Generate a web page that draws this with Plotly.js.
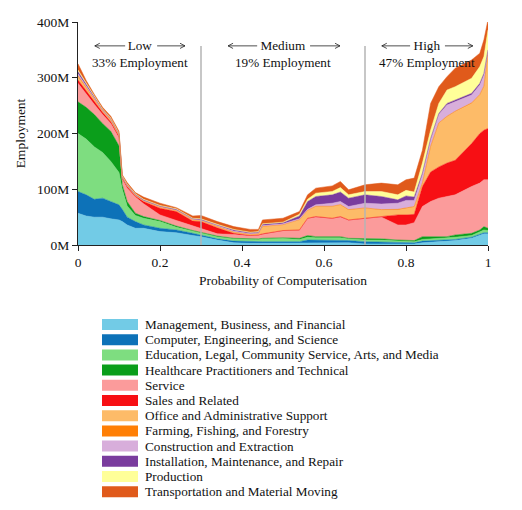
<!DOCTYPE html>
<html>
<head>
<meta charset="utf-8">
<script src="https://cdn.plot.ly/plotly-3.0.1.min.js"></script>
<style>
  html, body { margin: 0; padding: 0; background: #fff; }
  #chart { width: 522px; height: 510px; }
</style>
</head>
<body>
<div id="chart"></div>
<script>
"use strict";

// probability of computerisation (x), employment in millions per group
var probability = [0, 0.02, 0.04, 0.06, 0.08, 0.1, 0.108, 0.12, 0.14, 0.16, 0.2, 0.24, 0.28, 0.3, 0.34, 0.38, 0.42, 0.44, 0.45, 0.5,
    0.54, 0.56, 0.58, 0.62, 0.64, 0.66, 0.7, 0.74, 0.78, 0.8, 0.82, 0.84, 0.86, 0.88, 0.9, 0.92, 0.96, 0.98, 0.99, 1];

var management = [57, 52, 50, 50, 47, 45, 42, 36, 30, 30, 24, 22, 17, 15, 9, 4, 3, 3, 3, 3, 3, 4, 4, 4, 4, 4, 2, 2, 1, 2, 2, 4, 5, 6, 7, 8, 12, 17, 20, 20];
var computer = [39, 38, 32, 34, 31, 27, 22, 14, 12, 6, 6, 5, 4, 3, 2, 3, 3, 3, 3, 3, 3, 5, 5, 5, 5, 4, 4, 3, 3, 2, 2, 3, 3, 2, 2, 2, 2, 2, 2, 2];
var education = [104, 100, 94, 82, 72, 58, 36, 20, 11, 12, 12, 5, 4, 4, 4, 4, 4, 4, 5, 6, 4, 5, 4, 4, 4, 3, 3, 4, 3, 3, 2, 3, 3, 3, 3, 4, 3, 4, 5, 4];
var healthcare = [57, 57, 58, 52, 54, 48, 8, 8, 4, 3, 2, 2, 1, 1, 1, 1, 1, 1, 1, 1, 2, 3, 2, 2, 2, 1, 3, 2, 2, 2, 2, 5, 4, 4, 3, 4, 4, 4, 6, 4];
var service = [33, 23, 18, 16, 14, 14, 10, 24, 29, 23, 10, 10, 8, 7, 4, 7, 5, 6, 7, 12, 14, 30, 35, 32, 35, 32, 35, 39, 27, 27, 32, 54, 63, 69, 72, 72, 84, 84, 84, 87];
var sales = [6, 6, 4, 4, 3, 3, 2, 3, 2, 4, 12, 16, 9, 12, 11, 2, 1, 1, 1, 1, 1, 1, 1, 1, 1, 1, 1, 1, 18, 18, 15, 36, 53, 56, 60, 62, 77, 89, 89, 92];
var office = [6, 5, 4, 2, 3, 2, 1, 1, 1, 1, 2, 2, 2, 2, 2, 2, 2, 2, 13, 10, 18, 14, 18, 21, 21, 18, 18, 12, 9, 12, 13, 6, 45, 78, 83, 87, 72, 69, 78, 135];
var farming = [2, 2, 1, 1, 1, 1, 0.5, 0.5, 0.5, 0.5, 0.5, 0.5, 0.5, 0.5, 0.5, 0.5, 0.5, 0.5, 0.5, 0.5, 0.5, 0.5, 0.5, 0.5, 0.5, 0.5, 0.5, 0.5, 1, 1, 1, 0.5, 1, 1, 1, 1, 1, 1, 1, 1];
var construction = [3, 2, 2, 1, 1, 1, 0.5, 0.5, 0.5, 0.5, 0.5, 0.5, 1, 0.5, 1.5, 1.5, 1, 1, 1.5, 1.5, 1.5, 1.5, 2.5, 5.5, 5.5, 5.5, 8.5, 10, 11, 13, 11, 15.5, 12, 15, 20, 17, 14, 17, 20, 3];
var installation = [4, 3, 2, 1, 1, 1, 1, 1, 1, 1, 1, 1, 1, 1, 1, 2, 1.5, 1.5, 2, 2, 5, 14, 15, 15, 17, 15, 15, 13.5, 6, 8, 6, 2, 2, 2, 3, 3, 3, 3, 3, 2];
var production = [3, 2, 2, 1, 1, 1, 1, 1, 1, 1, 1, 1, 0.5, 1, 1, 1, 1, 1, 1, 1, 3, 4, 6, 6, 8, 6, 6, 9, 9, 10, 9, 18, 15, 18, 24, 24, 27, 30, 30, 36];
var transport = [11, 5, 3, 3, 3, 3, 2, 3, 2, 4, 4, 2, 4, 6, 5, 5, 5, 4, 7, 7, 5, 8, 9, 10, 11, 9, 12, 15, 18, 19, 25, 23, 48, 30, 24, 33, 33, 24, 30, 18];

var groupNames = [
    "Management, Business, and Financial",
    "Computer, Engineering, and Science",
    "Education, Legal, Community Service, Arts, and Media",
    "Healthcare Practitioners and Technical",
    "Service",
    "Sales and Related",
    "Office and Administrative Support",
    "Farming, Fishing, and Forestry",
    "Construction and Extraction",
    "Installation, Maintenance, and Repair",
    "Production",
    "Transportation and Material Moving"
];
var groupValues = [management, computer, education, healthcare, service, sales, office, farming, construction, installation, production, transport];
var groupColors = ["#72cbe6", "#0d72b8", "#7edd80", "#0b9e1b", "#fb9b9b", "#f70f14", "#fdbb68", "#ff7f05", "#d8aedb", "#7a3c9e", "#ffff99", "#e05a1b"];

var xTicks = [0, 0.2, 0.4, 0.6, 0.8, 1];
var xTickText = ["0", "0.2", "0.4", "0.6", "0.8", "1"];
var yTicks = [0, 100, 200, 300, 400];
var yTickText = ["0M", "100M", "200M", "300M", "400M"];

var bands = [
    { label: "Low", share: "33% Employment", center: 0.15, arrowL: [0.115, 0.041], arrowR: [0.193, 0.261] },
    { label: "Medium", share: "19% Employment", center: 0.5, arrowL: [0.437, 0.366], arrowR: [0.566, 0.639] },
    { label: "High", share: "47% Employment", center: 0.85, arrowL: [0.81, 0.741], arrowR: [0.895, 0.963] }
];
var bandEdges = [0.3, 0.7];

var serif = "Liberation Serif, Times New Roman, serif";
var plotW = 410, plotH = 223;

var data = [];
for (var i = 0; i < groupNames.length; i++) {
    data.push({
        x: probability,
        y: groupValues[i],
        name: groupNames[i],
        type: "scatter",
        mode: "lines",
        stackgroup: "jobs",
        fillcolor: groupColors[i],
        line: { color: groupColors[i], width: 0.5 },
        hoverinfo: "name+y"
    });
}

var shapes = [];
var annotations = [];

// gray dividers between the risk bands
for (var i = 0; i < bandEdges.length; i++) {
    shapes.push({
        type: "line", xref: "x", yref: "paper",
        x0: bandEdges[i], x1: bandEdges[i], y0: 0, y1: 0.892,
        line: { color: "#b4b4b4", width: 1.5 }
    });
}

// thin arrow as two shapes: shaft + open head
function addArrow(fromX, toX, y) {
    var dir = toX < fromX ? 1 : -1;
    var hx = 5 / plotW * dir, hy = 2.6 / plotH;
    shapes.push({
        type: "line", xref: "x", yref: "paper", x0: fromX, x1: toX, y0: y, y1: y,
        line: { color: "#222", width: 0.8 }
    });
    shapes.push({
        type: "path", xref: "x", yref: "paper",
        path: "M " + (toX + hx) + " " + (y + hy) + " L " + toX + " " + y + " L " + (toX + hx) + " " + (y - hy),
        line: { color: "#222", width: 0.8 }
    });
}

// band labels (two lines in one text) with arrows
for (var i = 0; i < bands.length; i++) {
    var b = bands[i];
    annotations.push({
        x: b.center, y: 0.857, xref: "x", yref: "paper", text: b.label + "<br>" + b.share, showarrow: false,
        font: { family: serif, size: 13.2, color: "#111" }, xanchor: "center", yanchor: "middle", align: "center"
    });
    addArrow(b.arrowL[0], b.arrowL[1], 0.893);
    addArrow(b.arrowR[0], b.arrowR[1], 0.893);
}

// legend drawn by hand so the rows sit as tight as the reference
for (var i = 0; i < groupNames.length; i++) {
    var cy = (245 - (324.5 + 15.2 * i)) / plotH;
    shapes.push({
        type: "rect", xref: "paper", yref: "paper",
        x0: 24 / plotW, x1: 60 / plotW, y0: cy - 5.5 / plotH, y1: cy + 5.5 / plotH,
        fillcolor: groupColors[i], line: { width: 0 }
    });
    annotations.push({
        x: 65 / plotW, y: cy, xref: "paper", yref: "paper", text: groupNames[i], showarrow: false,
        xanchor: "left", yanchor: "middle", font: { family: serif, size: 13.2, color: "#111" }
    });
}

var layout = {
    width: 522,
    height: 510,
    margin: { l: 78, r: 34, t: 22, b: 265 },
    paper_bgcolor: "#fff",
    plot_bgcolor: "#fff",
    showlegend: false,
    font: { family: serif, size: 13, color: "#111" },
    xaxis: {
        range: [0, 1], tickvals: xTicks, ticktext: xTickText,
        showgrid: false, zeroline: false, showline: true, linecolor: "#222", linewidth: 1,
        ticks: "outside", ticklen: 5, tickcolor: "#222",
        tickfont: { family: serif, size: 13.5 },
        title: { text: "Probability of Computerisation", font: { family: serif, size: 13.5 }, standoff: 6 },
        automargin: false
    },
    yaxis: {
        range: [0, 400], tickvals: yTicks, ticktext: yTickText,
        showgrid: false, zeroline: false, showline: true, linecolor: "#222", linewidth: 1,
        ticks: "outside", ticklen: 5, tickcolor: "#222",
        tickfont: { family: serif, size: 13.5 },
        title: { text: "Employment", font: { family: serif, size: 13.5 }, standoff: 8 },
        automargin: false
    },
    shapes: shapes,
    annotations: annotations
};

Plotly.newPlot("chart", data, layout, { displayModeBar: false, staticPlot: true });
</script>
</body>
</html>
